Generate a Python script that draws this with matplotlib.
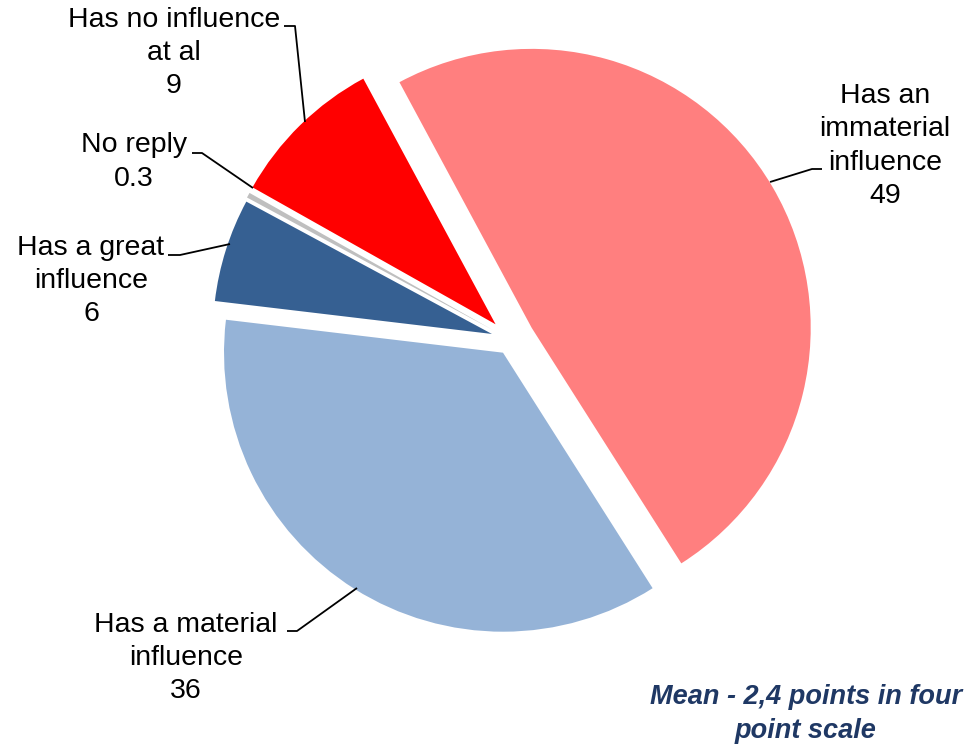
import matplotlib
matplotlib.use("Agg")
import matplotlib.pyplot as plt

# Data
categories = ["Has an\nimmaterial\ninfluence", "Has a material\ninfluence",
              "Has a great\ninfluence", "No reply", "Has no influence\nat al"]
values = [49, 36, 6, 0.3, 9]
value_labels = ["49", "36", "6", "0.3", "9"]
colors = ["#FF7F7F", "#95B3D7", "#366092", "#BFBFBF", "#FF0000"]
note = "Mean - 2,4 points in four\npoint scale"

# Layout (pixel units, y measured from top of image)
W, H = 968, 747
pie_center = (511, 340)
pie_radius = 279
explode = [24, 15, 20, 21, 22]
label_pos = [(885, 146), (186, 658), (91, 281), (134, 162), (174, 53)]
leaders = [
    [(770, 182), (812, 169), (822, 169)],
    [(357, 588), (297, 631), (287, 631)],
    [(230, 244), (180, 255), (168, 255)],
    [(253, 188), (202, 153), (192, 153)],
    [(305, 122), (295, 26), (284, 26)],
]

plt.rcParams["font.family"] = ["Liberation Sans", "DejaVu Sans"]

fig = plt.figure(figsize=(W / 100, H / 100), dpi=100)
ax = fig.add_axes([0, 0, 1, 1])

def fy(y):
    return H - y

ax.pie(values, colors=colors, explode=explode, startangle=118.3,
       counterclock=False, radius=pie_radius,
       center=(pie_center[0], fy(pie_center[1])),
       wedgeprops=dict(linewidth=0))

ax.set_xlim(0, W)
ax.set_ylim(0, H)
ax.set_aspect("equal")
ax.axis("off")

for cat, val, (x, y) in zip(categories, value_labels, label_pos):
    ax.text(x, fy(y), cat + "\n" + val, ha="center", va="center",
            fontsize=20.5, linespacing=1.36, color="black")

for pts in leaders:
    xs = [p[0] for p in pts]
    ys = [fy(p[1]) for p in pts]
    ax.plot(xs, ys, color="black", lw=1.3, solid_capstyle="butt")

ax.text(806, fy(714), note, ha="center", va="center", fontsize=19.5,
        fontweight="bold", fontstyle="italic", color="#1F3864",
        linespacing=1.45)

fig.savefig("out.png", dpi=100)
